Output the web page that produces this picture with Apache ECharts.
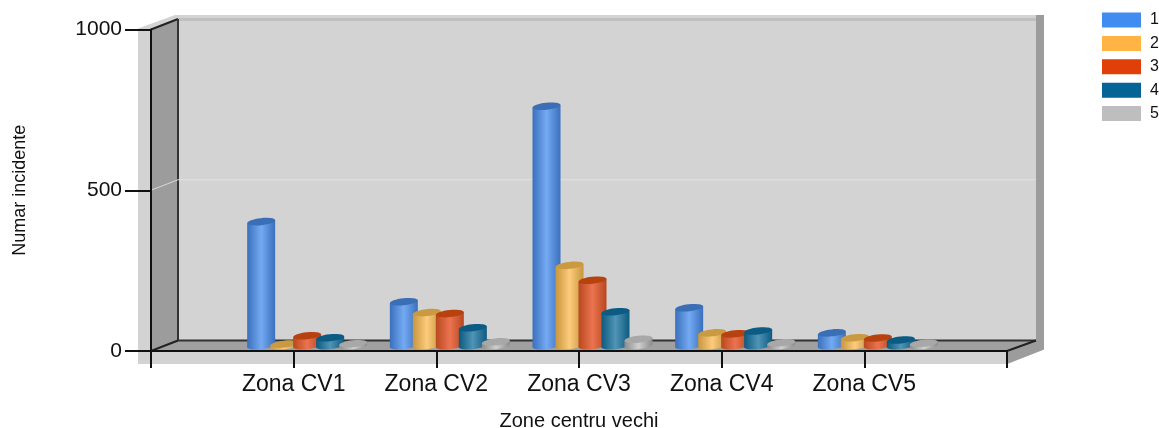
<!DOCTYPE html>
<html><head><meta charset="utf-8">
<script src="https://cdn.jsdelivr.net/npm/echarts@6/dist/echarts.min.js"></script>
<style>html,body{margin:0;padding:0;background:#fff}#c{width:1159px;height:428px}</style>
</head><body><div id="c"></div>
<script>
const categories = ['', 'Zona CV1', 'Zona CV2', 'Zona CV3', 'Zona CV4', 'Zona CV5', ''];
const s1 = [386, 137, 745, 118, 40];
const s2 = [5, 103, 250, 40, 25];
const s3 = [31, 100, 204, 37, 24];
const s4 = [25, 56, 106, 46, 18];
const s5 = [6, 12, 20, 9, 8];
const seriesNames = ['1', '2', '3', '4', '5'];
const yTicks = [0, 500, 1000];

const legendColors = ['#408cf0', '#ffb444', '#e04008', '#056496', '#bebebe'];
const bodyEdge = ['#3a70bc', '#c8963e', '#b8481e', '#0d5a80', '#8c8c8c'];
const bodyMid = ['#74aaf2', '#fccb7c', '#ea7450', '#5094b6', '#cfcfcf'];
const capColors = ['#3a6fb6', '#c99a42', '#b8420f', '#0b5b84', '#a8a8a8'];
const DX = 27, DY = -10.5, STEP = 23, RX = 14, RY = 3.5, TILT = 0.105;

function lg(i) {
  return { type: 'linear', x: 0, y: 0, x2: 1, y2: 0, colorStops: [
    { offset: 0, color: bodyEdge[i] }, { offset: 0.5, color: bodyMid[i] }, { offset: 1, color: bodyEdge[i] }] };
}
function cyl(idx, values) {
  return {
    type: 'custom', name: seriesNames[idx], z: 5,
    itemStyle: { color: legendColors[idx] },
    encode: { x: 0, y: 1 },
    data: values.map((v, k) => [k + 1, v]),
    renderItem(params, api) {
      const p = api.coord([api.value(0), api.value(1)]);
      const b = api.coord([api.value(0), 0]);
      const cx = p[0] + DX / 2 + (idx - 2) * STEP;
      const yt = p[1] + DY / 2, yb = b[1] + DY / 2;
      const t = RX * Math.tan(TILT);
      return { type: 'group', children: [
        { type: 'ellipse', x: cx, y: yb, rotation: TILT, shape: { cx: 0, cy: 0, rx: RX, ry: RY }, style: { fill: lg(idx) } },
        { type: 'polygon', shape: { points: [[cx - RX, yt + t], [cx + RX, yt - t], [cx + RX, yb - t], [cx - RX, yb + t]] }, style: { fill: lg(idx) } },
        { type: 'ellipse', x: cx, y: yt, rotation: TILT, shape: { cx: 0, cy: 0, rx: RX, ry: RY }, style: { fill: capColors[idx] } }
      ] };
    }
  };
}
const walls = {
  type: 'custom', silent: true, z: 0, data: [[0, 0]], encode: { x: 0, y: 1 },
  renderItem(params, api) {
    const g = params.coordSys, L = g.x, R = g.x + g.width, T = g.y, B = g.y + g.height;
    const poly = (pts, fill) => ({ type: 'polygon', shape: { points: pts }, style: { fill } });
    const line = (a, c, w, col) => ({ type: 'line', shape: { x1: a[0], y1: a[1], x2: c[0], y2: c[1] }, style: { stroke: col, lineWidth: w } });
    const bx = L + DX, bR = R + DX + 2, bT = T + DY, bB = B + DY;
    const ch = [
      poly([[L - 13, T - 1], [bx - 3, bT - 4], [bR + 8, bT - 4], [bR + 8, bB + 9], [R, B + 13], [L - 13, B + 13]], '#d3d3d3'),
      poly([[bx, bT - 1], [bR, bT - 1], [bR, bT + 2], [bx, bT + 2]], '#bfbfbf'),
      poly([[bR, bT - 4], [bR + 8, bT - 4], [bR + 8, bB + 9], [R, B + 13], [R, B], [bR, bB]], '#9c9c9c'),
      poly([[L, T], [bx, bT], [bx, bB], [L, B]], '#9c9c9c'),
      poly([[L, B], [bx, bB], [bR, bB], [R, B]], '#a0a0a0'),
      line([L, T], [bx, bT], 2, '#222'),
      line([bx, bT], [bx, bB], 2, '#333'),
      line([L, B], [bx, bB], 2, '#222'),
      line([bx, bB], [bR, bB], 2, '#333'),
      line([R, B], [bR, bB], 2, '#222')
    ];
    yTicks.slice(1, -1).forEach(v => {
      const y = api.coord([0, v])[1];
      ch.push(line([L, y], [bx, y + DY], 1, '#d8d8d8'));
      ch.push(line([bx, y + DY], [bR, y + DY], 1, '#e2e2e2'));
    });
    return { type: 'group', children: ch };
  }
};
const chart = echarts.init(document.getElementById('c'), null, { renderer: 'canvas' });
const font = 'Liberation Sans';
chart.setOption({
  animation: false,
  backgroundColor: '#fff',
  grid: { left: 151, right: 152, top: 29.5, height: 321.5, outerBoundsMode: 'none' },
  legend: {
    orient: 'vertical', left: 1102, top: 12, padding: 0, itemWidth: 39, itemHeight: 15, itemGap: 7.4,
    data: seriesNames, icon: 'rect', selectedMode: false,
    textStyle: { fontFamily: font, fontSize: 16, lineHeight: 15, color: '#111', padding: [0, 0, 0, 4] }
  },
  xAxis: {
    type: 'category', data: categories, boundaryGap: false, z: 1,
    axisLine: { show: true, lineStyle: { color: '#111', width: 2 } },
    axisTick: { show: true, alignWithLabel: true, length: 17, lineStyle: { color: '#111', width: 2 } },
    axisLabel: { interval: 0, fontFamily: font, fontSize: 23, color: '#111', margin: 22 },
    splitLine: { show: false },
    name: 'Zone centru vechi', nameLocation: 'middle', nameGap: 60,
    nameTextStyle: { fontFamily: font, fontSize: 20, color: '#111' }
  },
  yAxis: {
    type: 'value', min: 0, max: 1000, interval: 500, z: 1,
    axisLine: { show: true, lineStyle: { color: '#111', width: 2 } },
    axisTick: { show: true, length: 26, lineStyle: { color: '#111', width: 2 } },
    axisLabel: { fontFamily: font, fontSize: 21, color: '#111', margin: 29, formatter: v => String(v) },
    splitLine: { show: false },
    name: 'Numar incidente', nameLocation: 'middle', nameGap: 122,
    nameTextStyle: { fontFamily: font, fontSize: 18, color: '#111' }
  },
  series: [walls, cyl(0, s1), cyl(1, s2), cyl(2, s3), cyl(3, s4), cyl(4, s5)]
});
</script></body></html>
